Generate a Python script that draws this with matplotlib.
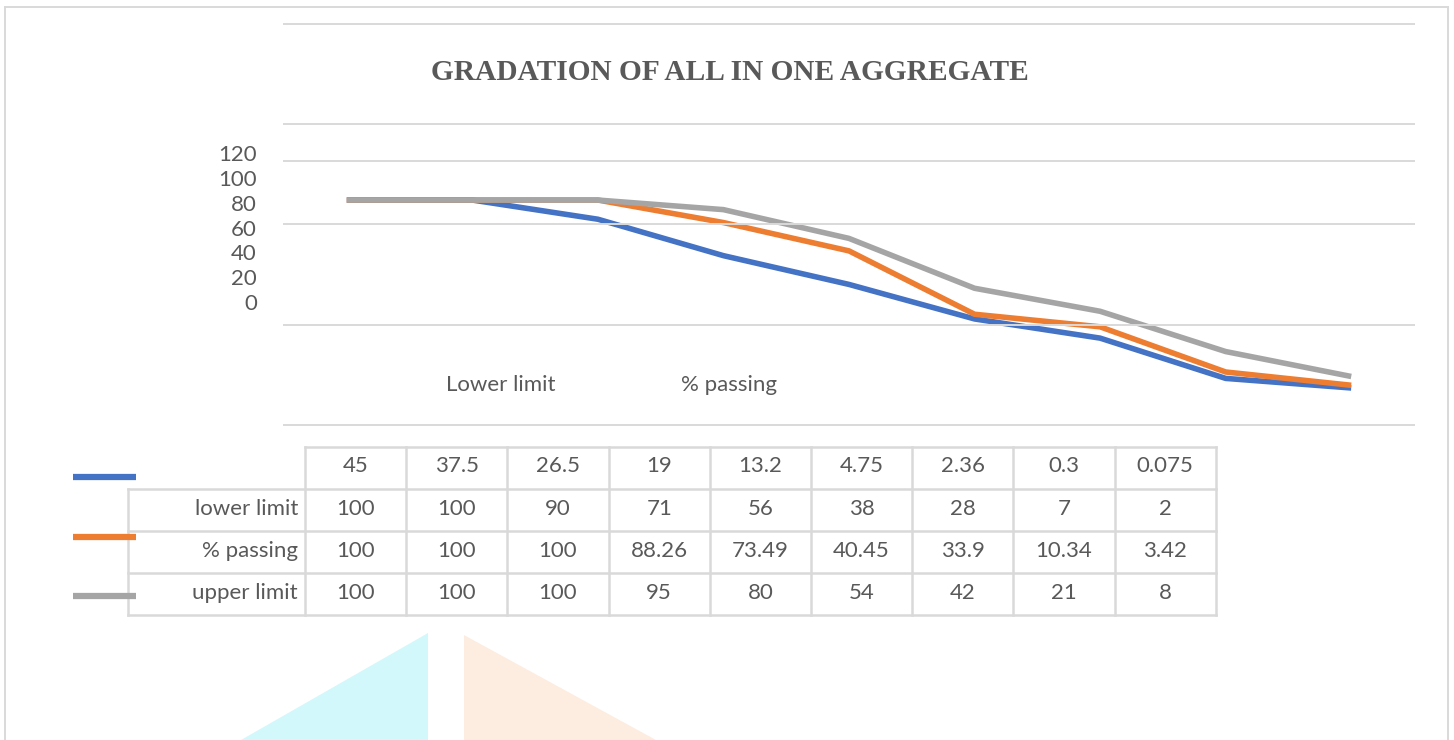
import matplotlib.pyplot as plt
from matplotlib.lines import Line2D
from matplotlib.patches import Polygon

# data
sieve_sizes = ['45', '37.5', '26.5', '19', '13.2', '4.75', '2.36', '0.3', '0.075']
lower_limit = [100, 100, 90, 71, 56, 38, 28, 7, 2]
pct_passing = [100, 100, 100, 88.26, 73.49, 40.45, 33.9, 10.34, 3.42]
upper_limit = [100, 100, 100, 95, 80, 54, 42, 21, 8]
series_names = ['lower limit', '% passing', 'upper limit']
series_colors = ['#4472C4', '#ED7D31', '#A5A5A5']
ytick_labels = ['0', '20', '40', '60', '80', '100', '120']
category_labels = ['Lower limit', '% passing']

W, H = 1454, 740
GRID = '#D9D9D9'
TXT = '#595959'
SANS = ['Lato', 'DejaVu Sans']
FS = 16


def fx(x):
    return x / W


def fy(y):
    return 1 - y / H


def hline(fig, x0, x1, y, color=GRID, lw=1.4, z=1):
    fig.add_artist(Line2D([fx(x0), fx(x1)], [fy(y), fy(y)], color=color, lw=lw, zorder=z))


def vline(fig, x, y0, y1, color=GRID, lw=1.4, z=1):
    fig.add_artist(Line2D([fx(x), fx(x)], [fy(y0), fy(y1)], color=color, lw=lw, zorder=z))


fig = plt.figure(figsize=(W / 100, H / 100), dpi=100)

# faint watermark in the page behind
fig.add_artist(Polygon([(fx(428), fy(633)), (fx(428), fy(740)), (fx(241), fy(740))],
                       closed=True, fc='#D2F8FB', ec='none', zorder=0))
fig.add_artist(Polygon([(fx(464), fy(635)), (fx(464), fy(740)), (fx(656), fy(740))],
                       closed=True, fc='#FDEDE0', ec='none', zorder=0))

# outer frame
hline(fig, 5, 1448, 7)
vline(fig, 5, 7, 740)
vline(fig, 1448, 7, 740)

# chart gridlines (as rendered in the source)
for gy in [24, 124, 161, 224, 325, 425]:
    hline(fig, 284, 1414, gy)

fig.text(fx(730), fy(72), 'GRADATION OF ALL IN ONE AGGREGATE', ha='center', va='center',
         fontsize=21.2, fontweight='bold', family='Liberation Serif', color=TXT)

for i, lab in enumerate(ytick_labels):
    fig.text(fx(257), fy(304 - i * 24.8), lab, ha='right', va='center',
             fontsize=FS, family=SANS, color=TXT)

fig.text(fx(501), fy(385), category_labels[0], ha='center', va='center',
         fontsize=FS, family=SANS, color=TXT)
fig.text(fx(729), fy(385), category_labels[1], ha='center', va='center',
         fontsize=FS, family=SANS, color=TXT)

# data lines
ax = fig.add_axes([fx(284), fy(425), fx(1414 - 284), (425 - 24) / H])
ax.set_xlim(-0.5, 8.5)
ax.set_ylim(-17.3, 191.8)
ax.axis('off')
xs = range(len(sieve_sizes))
for vals, c in zip([lower_limit, pct_passing, upper_limit], series_colors):
    ax.plot(xs, vals, color=c, lw=4, solid_joinstyle='round', solid_capstyle='butt')

# data table
col_edges = [305 + i * 101.2 for i in range(len(sieve_sizes) + 1)]
row_edges = [447, 489, 531, 573, 615]
hline(fig, col_edges[0], col_edges[-1], row_edges[0], lw=1.8)
for ry in row_edges[1:]:
    hline(fig, 128, col_edges[-1], ry, lw=1.8)
vline(fig, 128, row_edges[1], row_edges[-1], lw=1.8)
for cx in col_edges:
    vline(fig, cx, row_edges[0], row_edges[-1], lw=1.8)

for j, s in enumerate(sieve_sizes):
    cx = (col_edges[j] + col_edges[j + 1]) / 2
    fig.text(fx(cx), fy((row_edges[0] + row_edges[1]) / 2 - 2), s, ha='center', va='center',
             fontsize=FS, family=SANS, color=TXT)

for r, (name, vals) in enumerate(zip(series_names, [lower_limit, pct_passing, upper_limit])):
    cy = (row_edges[r + 1] + row_edges[r + 2]) / 2 - 1
    fig.text(fx(298), fy(cy), name, ha='right', va='center', fontsize=FS, family=SANS, color=TXT)
    for j, v in enumerate(vals):
        cx = (col_edges[j] + col_edges[j + 1]) / 2
        fig.text(fx(cx), fy(cy), '{:g}'.format(v), ha='center', va='center',
                 fontsize=FS, family=SANS, color=TXT)

# legend keys beside the table
for ky, c in zip([477, 537, 596], series_colors):
    fig.add_artist(Line2D([fx(73), fx(136)], [fy(ky), fy(ky)], color=c, lw=4.5,
                          solid_capstyle='butt', zorder=3))

fig.savefig('out.png', dpi=100)
